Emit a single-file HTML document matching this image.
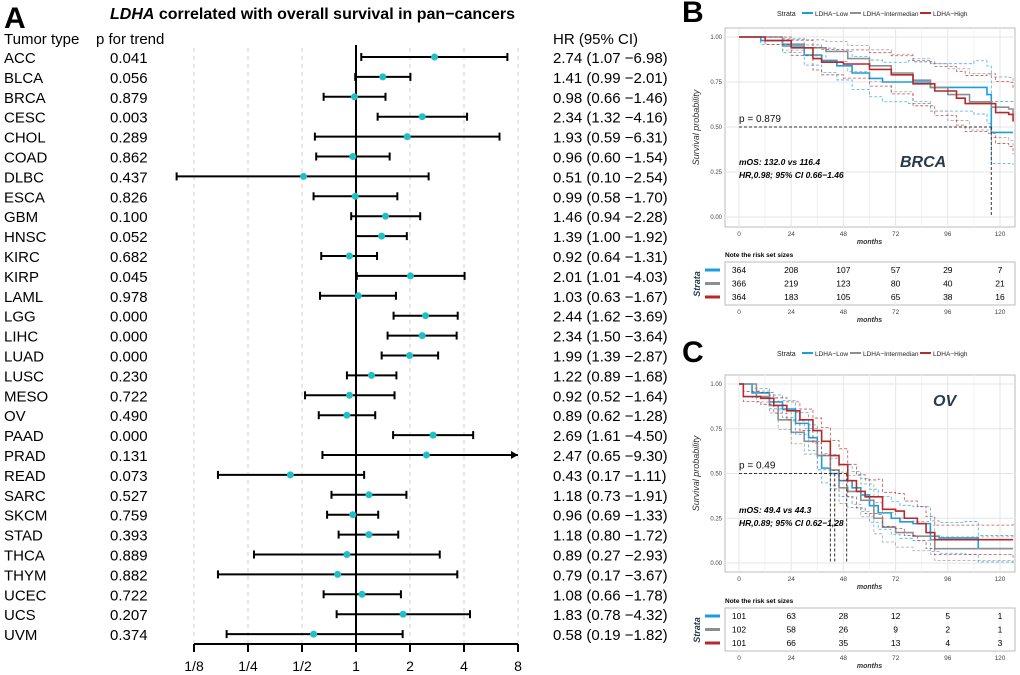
<!DOCTYPE html>
<html><head><meta charset="utf-8"><style>
body{margin:0;background:#fff;}
svg{display:block;font-family:"Liberation Sans",Arial,sans-serif;}
</style></head><body>
<svg id="fig" width="1020" height="675" viewBox="0 0 1020 675" xmlns="http://www.w3.org/2000/svg">
<text x="4" y="28" font-size="30" font-weight="bold">A</text>
<text x="110" y="19" font-size="16" font-weight="bold"><tspan font-style="italic">LDHA</tspan> correlated with overall survival in pan−cancers</text>
<text x="4" y="44" font-size="15">Tumor type</text>
<text x="96" y="44" font-size="15">p for trend</text>
<text x="553" y="44" font-size="15">HR (95% CI)</text>
<g id="forest"></g>
<g id="pb"></g>
<g id="pc"></g>
</svg>
<script>
const tumors=["ACC","BLCA","BRCA","CESC","CHOL","COAD","DLBC","ESCA","GBM","HNSC","KIRC","KIRP","LAML","LGG","LIHC","LUAD","LUSC","MESO","OV","PAAD","PRAD","READ","SARC","SKCM","STAD","THCA","THYM","UCEC","UCS","UVM"];
const pTrend=["0.041","0.056","0.879","0.003","0.289","0.862","0.437","0.826","0.100","0.052","0.682","0.045","0.978","0.000","0.000","0.000","0.230","0.722","0.490","0.000","0.131","0.073","0.527","0.759","0.393","0.889","0.882","0.722","0.207","0.374"];
const hr=[2.74,1.41,0.98,2.34,1.93,0.96,0.51,0.99,1.46,1.39,0.92,2.01,1.03,2.44,2.34,1.99,1.22,0.92,0.89,2.69,2.47,0.43,1.18,0.96,1.18,0.89,0.79,1.08,1.83,0.58];
const hrLo=[1.07,0.99,0.66,1.32,0.59,0.60,0.10,0.58,0.94,1.00,0.64,1.01,0.63,1.62,1.50,1.39,0.89,0.52,0.62,1.61,0.65,0.17,0.73,0.69,0.80,0.27,0.17,0.66,0.78,0.19];
const hrHi=[6.98,2.01,1.46,4.16,6.31,1.54,2.54,1.70,2.28,1.92,1.31,4.03,1.67,3.69,3.64,2.87,1.68,1.64,1.28,4.50,9.30,1.11,1.91,1.33,1.72,2.93,3.67,1.78,4.32,1.82];
const xTicks=[0.125,0.25,0.5,1,2,4,8];
const xTickLabels=["1/8","1/4","1/2","1","2","4","8"];
const NS="http://www.w3.org/2000/svg";
function mk(parent,tag,attrs,txt){const e=document.createElementNS(NS,tag);for(const k in attrs)e.setAttribute(k,attrs[k]);if(txt!==undefined)e.textContent=txt;parent.appendChild(e);return e;}
const fx=v=>356+54*Math.log2(v);
const fy=i=>57+i*19.9;
const F=document.getElementById('forest');
xTicks.forEach((t,i)=>{
  if(t!==1){const g=mk(F,'line',{x1:fx(t),x2:fx(t),y1:48,y2:644,stroke:'#d0d0d0','stroke-dasharray':'4,4','stroke-width':1});
  
  }
  const tk=mk(F,'line',{x1:fx(t),x2:fx(t),y1:644,y2:652,stroke:'#000','stroke-width':2});
  
  
  const lb=mk(F,'text',{x:fx(t),y:671,'font-size':14,'text-anchor':'middle'},xTickLabels[i]);
  
  
});
const ax=mk(F,'line',{x1:fx(0.125),x2:fx(8),y1:644,y2:644,stroke:'#000','stroke-width':2});


const ref=mk(F,'line',{x1:fx(1),x2:fx(1),y1:45,y2:644,stroke:'#000','stroke-width':2});


tumors.forEach((t,i)=>{
  const y=fy(i);
  const a=mk(F,'text',{x:4,y:y+6,'font-size':15},t);
  
  
  const b=mk(F,'text',{x:110,y:y+6,'font-size':15},pTrend[i]);
  
  
  const c=mk(F,'text',{x:553,y:y+6,'font-size':15},hr[i].toFixed(2)+" ("+hrLo[i].toFixed(2)+" −"+hrHi[i].toFixed(2)+")");
  
  
  const x1=Math.max(fx(hrLo[i]),fx(0.125)-20),over=hrHi[i]>8,x2=over?fx(8):fx(hrHi[i]);
  const l=mk(F,'line',{x1:x1,x2:x2,y1:y,y2:y,stroke:'#000','stroke-width':2});
  
  
  mk(F,'line',{x1:x1,x2:x1,y1:y-4,y2:y+4,stroke:'#000','stroke-width':2});
  if(over){mk(F,'path',{d:`M${x2} ${y} l-7 -4 v8 z`,fill:'#000'});}
  else mk(F,'line',{x1:x2,x2:x2,y1:y-4,y2:y+4,stroke:'#000','stroke-width':2});
  const p=mk(F,'circle',{cx:fx(hr[i]),cy:y,r:3.5,fill:'#20c0c8'});
  
  
});

const kmMonths=[0,24,48,72,96,120];
const yTicks=[0,0.25,0.5,0.75,1];
const brcaLow=[[0,1],[10,.98],[20,.95],[30,.9],[38,.87],[45,.84],[52,.8],[60,.77],[66,.75],[78,.75],[88,.72],[108,.72],[114,.68],[116,.47],[126,.47]];
const brcaMid=[[0,1],[20,.96],[30,.94],[40,.92],[50,.88],[60,.84],[70,.8],[80,.76],[88,.72],[96,.68],[106,.64],[116,.61],[124,.6],[126,.57]];
const brcaHigh=[[0,1],[12,.98],[24,.94],[34,.88],[38,.86],[48,.85],[60,.82],[70,.79],[80,.74],[90,.7],[100,.66],[104,.63],[114,.63],[118,.58],[124,.57],[126,.53]];
const ovLow=[[0,1],[6,.95],[14,.9],[20,.86],[26,.78],[32,.7],[36,.6],[38,.53],[42,.5],[46,.46],[52,.42],[56,.38],[60,.32],[64,.28],[70,.25],[74,.23],[80,.22],[88,.15],[92,.14],[104,.14],[110,.08],[126,.08]];
const ovMid=[[0,1],[8,.93],[14,.88],[18,.8],[24,.73],[30,.68],[36,.6],[42,.52],[46,.42],[50,.4],[56,.35],[62,.25],[66,.2],[72,.17],[80,.15],[88,.13],[90,.08],[126,.08]];
const ovHigh=[[0,1],[2,.93],[10,.92],[16,.88],[22,.85],[28,.8],[34,.74],[38,.68],[42,.6],[46,.55],[50,.46],[54,.4],[58,.37],[64,.37],[66,.3],[72,.29],[76,.25],[82,.22],[86,.17],[90,.13],[126,.13]];
const brcaRisk=[[364,208,107,57,29,7],[366,219,123,80,40,21],[364,183,105,65,38,16]];
const ovRisk=[[101,63,28,12,5,1],[102,58,26,9,2,1],[101,66,35,13,4,3]];
const brcaMedians=[116];
const ovMedians=[42,44,49.5];
const colors=['#1a9fdc','#8a8f94','#b5292a'];

function km(G,o){
  const X=m=>739+m*(261/120), Y=s=>o.y0-s*(o.y0-o.y1);
  const T=o.top;
  mk(G,'text',{x:682,y:T+22,'font-size':30,'font-weight':'bold'},o.letter);
  mk(G,'text',{x:777,y:T+16,'font-size':7,fill:'#222'},'Strata');
  const lx=[802,850,920],ln=['LDHA−Low','LDHA−Intermedian','LDHA−High'];
  lx.forEach((x,i)=>{mk(G,'line',{x1:x,x2:x+11,y1:T+13,y2:T+13,stroke:colors[i],'stroke-width':2});
    const t=mk(G,'text',{x:x+13,y:T+16,'font-size':6.5,fill:'#222'},ln[i]);
    
    });
  const px0=725,px1=1015;
  const pr=mk(G,'rect',{x:px0,y:o.pt,width:px1-px0,height:o.pb-o.pt,fill:'#fff',stroke:'#bbb'});
  
  
  kmMonths.forEach(m=>{mk(G,'line',{x1:X(m),x2:X(m),y1:o.pt,y2:o.pb,stroke:'#e6e6e6'});
    mk(G,'line',{x1:X(m+12),x2:X(m+12),y1:o.pt,y2:o.pb,stroke:'#f2f2f2'});
    const t=mk(G,'text',{x:X(m),y:o.pb+9,'font-size':6.5,'text-anchor':'middle',fill:'#444'},m);
    
    });
  yTicks.forEach(v=>{mk(G,'line',{x1:px0,x2:px1,y1:Y(v),y2:Y(v),stroke:'#e6e6e6'});
    const t=mk(G,'text',{x:722,y:Y(v)+2,'font-size':6,'text-anchor':'end',fill:'#444'},v.toFixed(2));
    
    });
  mk(G,'text',{x:X(60),y:o.pb+17,'font-size':7,'font-style':'italic','font-weight':'bold','text-anchor':'middle',fill:'#333'},'months');
  mk(G,'text',{x:0,y:0,'font-size':9,'font-style':'italic','text-anchor':'middle',fill:'#333',transform:`translate(699,${(o.pt+o.pb)/2}) rotate(-90)`},'Survival probability');
  const step=d=>{let s='M'+X(d[0][0])+' '+Y(d[0][1]);for(let i=1;i<d.length;i++){s+=' H'+X(d[i][0])+' V'+Y(d[i][1]);}return s;};
  o.curves.forEach((d,i)=>{
    [1,-1].forEach(sg=>{const dd=d.map(p=>[p[0],Math.max(0,Math.min(1,p[1]+sg*Math.sqrt(p[1]*(1-p[1]))*o.ci*(0.6+p[0]/120)))]);
      mk(G,'path',{d:step(dd),fill:'none',stroke:colors[i],'stroke-width':0.8,'stroke-dasharray':'3,2',opacity:0.8});});
    const c=mk(G,'path',{d:step(d),fill:'none',stroke:colors[i],'stroke-width':1.6});
    
    
  });
  const mx=Math.max(...o.medians);
  mk(G,'line',{x1:X(0),x2:X(mx),y1:Y(.5),y2:Y(.5),stroke:'#333','stroke-dasharray':'3,2'});
  o.medians.forEach(m=>mk(G,'line',{x1:X(m),x2:X(m),y1:Y(.5),y2:Y(0),stroke:'#333','stroke-dasharray':'3,2'}));
  mk(G,'text',{x:739,y:Y(.5)-5,'font-size':10,fill:'#111'},o.ptext);
  mk(G,'text',{x:739,y:o.mosY,'font-size':8.5,'font-style':'italic','font-weight':'bold'},o.mos);
  mk(G,'text',{x:739,y:o.mosY+13,'font-size':8.5,'font-style':'italic','font-weight':'bold'},o.hrt);
  mk(G,'text',{x:o.nameX,y:o.nameY,'font-size':16,'font-style':'italic','font-weight':'bold',fill:'#2a3a48'},o.name);
  const R=o.rt;
  mk(G,'text',{x:725,y:R-5,'font-size':6.5,'font-weight':'bold'},'Note the risk set sizes');
  const rb=mk(G,'rect',{x:725,y:R,width:290,height:43,fill:'#fff',stroke:'#bbb'});
  
  
  kmMonths.forEach(m=>mk(G,'line',{x1:X(m),x2:X(m),y1:R,y2:R+43,stroke:'#eee'}));
  o.risk.forEach((row,i)=>{
    const yy=R+8+i*13.5;
    mk(G,'line',{x1:705,x2:720,y1:yy,y2:yy,stroke:colors[i],'stroke-width':3});
    row.forEach((v,j)=>{const t=mk(G,'text',{x:X(kmMonths[j]),y:yy+3,'font-size':8.5,'text-anchor':'middle'},v);
      
      });
  });
  mk(G,'text',{x:0,y:0,'font-size':9,'font-style':'italic','font-weight':'bold','text-anchor':'middle',fill:'#2a3a48',transform:`translate(700,${R+22}) rotate(-90)`},'Strata');
  kmMonths.forEach(m=>mk(G,'text',{x:X(m),y:R+52,'font-size':6.5,'text-anchor':'middle',fill:'#444'},m));
  mk(G,'text',{x:X(60),y:R+60,'font-size':7,'font-style':'italic','font-weight':'bold','text-anchor':'middle',fill:'#333'},'months');
}
km(document.getElementById('pb'),{top:0,letter:'B',pt:28,pb:227,y0:217,y1:37,curves:[brcaLow,brcaMid,brcaHigh],ci:0.22,medians:brcaMedians,
  ptext:'p = 0.879',mos:'mOS: 132.0 vs 116.4',hrt:'HR,0.98; 95% CI 0.66−1.46',mosY:165,name:'BRCA',nameX:900,nameY:167,rt:262,risk:brcaRisk});
km(document.getElementById('pc'),{top:340,letter:'C',pt:375,pb:572,y0:563,y1:384,curves:[ovLow,ovMid,ovHigh],ci:0.18,medians:ovMedians,
  ptext:'p = 0.49',mos:'mOS: 49.4 vs 44.3',hrt:'HR,0.89; 95% CI 0.62−1,28',mosY:513,name:'OV',nameX:933,nameY:406,rt:608,risk:ovRisk});
</script>
</body></html>
